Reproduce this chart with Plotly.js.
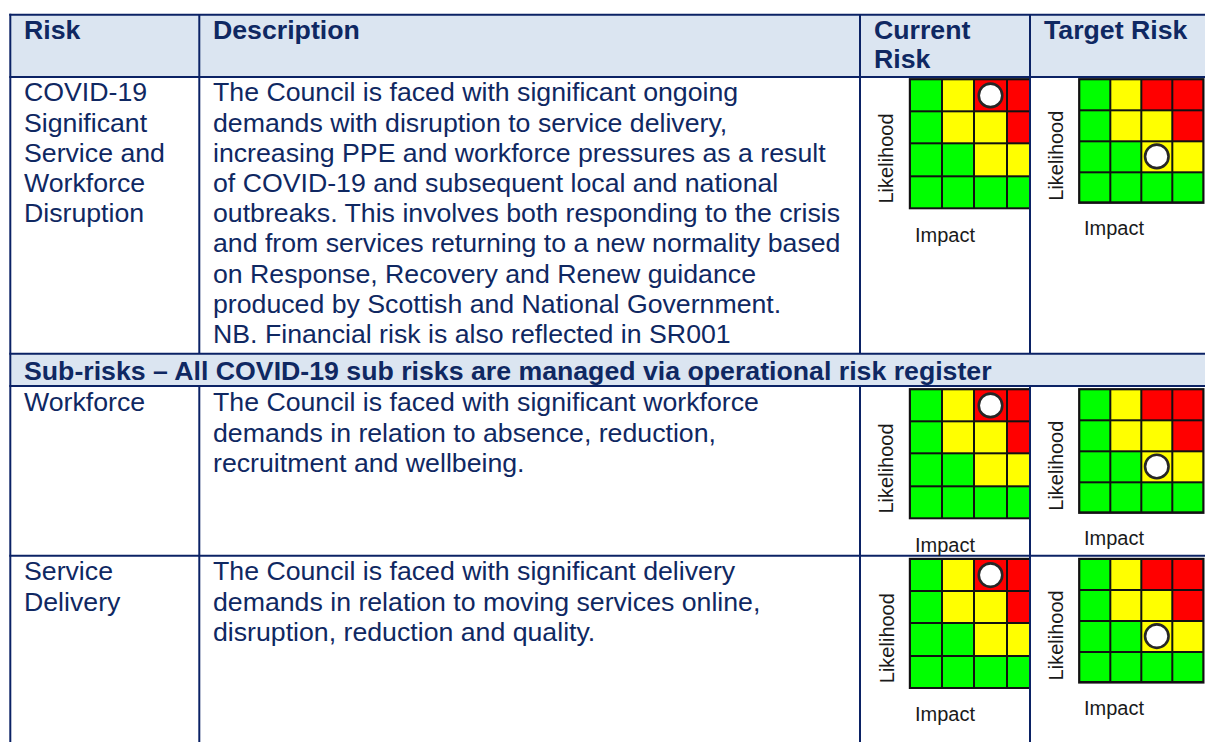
<!DOCTYPE html>
<html>
<head>
<meta charset="utf-8">
<script src="https://cdn.plot.ly/plotly-3.0.1.min.js"></script>
<style>html,body{margin:0;padding:0;background:#fff;}#chart{width:1205px;height:742px;}</style>
</head>
<body>
<div id="chart"></div>
<script>
// ---------------- DATA ----------------
const headerLabels = [["Risk"], ["Description"], ["Current", "Risk"], ["Target Risk"]];
const riskNames = [
  ["COVID-19", "Significant", "Service and", "Workforce", "Disruption"],
  ["Workforce"],
  ["Service", "Delivery"]
];
const descriptions = [
  ["The Council is faced with significant ongoing",
   "demands with disruption to service delivery,",
   "increasing PPE and workforce pressures as a result",
   "of COVID-19 and subsequent local and national",
   "outbreaks. This involves both responding to the crisis",
   "and from services returning to a new normality based",
   "on Response, Recovery and Renew guidance",
   "produced by Scottish and National Government.",
   "NB. Financial risk is also reflected in SR001"],
  ["The Council is faced with significant workforce",
   "demands in relation to absence, reduction,",
   "recruitment and wellbeing."],
  ["The Council is faced with significant delivery",
   "demands in relation to moving services online,",
   "disruption, reduction and quality."]
];
const subRiskBanner = "Sub-risks \u2013 All COVID-19 sub risks are managed via operational risk register";
const impactLevels = [1, 2, 3, 4];
const likelihoodLevels = [1, 2, 3, 4];
// risk level per likelihood row (bottom to top), per impact column: 1 green, 2 yellow, 3 red
const riskLevelGrid = [
  [1, 1, 1, 1],
  [1, 1, 2, 2],
  [1, 2, 2, 3],
  [1, 2, 3, 3]
];
const currentLikelihood = [4, 4, 4];
const currentImpact = [3, 3, 3];
const targetLikelihood = [2, 2, 2];
const targetImpact = [3, 3, 3];
const likelihoodLabel = "Likelihood";
const impactLabel = "Impact";

// ---------------- LAYOUT HELPERS ----------------
const W = 1205, H = 742;
const FONT = "'Liberation Sans', Arial, sans-serif";
const TXT = "#0f2862";
const LINE = "#0b2265";
const HEAD_BG = "#dbe5f1";
const FS = 26.7;
const PITCH = 30.2;

const annotations = [];
const shapes = [];
function txt(text, xpx, basePx, fs, bold, color) {
  annotations.push({
    text: text, xref: "paper", yref: "paper",
    x: xpx / W, y: 1 - (basePx + 0.212 * fs) / H,
    xanchor: "left", yanchor: "bottom", showarrow: false,
    borderpad: 0, borderwidth: 0,
    font: {family: FONT, size: fs, color: color || TXT, weight: bold ? "bold" : "normal"}
  });
}
function rect(x0, y0, x1, y1, fill) {
  shapes.push({type: "rect", xref: "paper", yref: "paper", layer: "below",
    x0: x0 / W, x1: x1 / W, y0: 1 - y1 / H, y1: 1 - y0 / H,
    fillcolor: fill, line: {width: 0}});
}
function hline(y, x0, x1) {
  shapes.push({type: "line", xref: "paper", yref: "paper", layer: "above",
    x0: x0 / W, x1: x1 / W, y0: 1 - y / H, y1: 1 - y / H, line: {color: LINE, width: 2}});
}
function vline(x, y0, y1) {
  shapes.push({type: "line", xref: "paper", yref: "paper", layer: "above",
    x0: x / W, x1: x / W, y0: 1 - y0 / H, y1: 1 - y1 / H, line: {color: LINE, width: 2}});
}

// table geometry (px)
const colX = [10.3, 199.3, 860, 1030];
const yTop = 14.8, yHead = 77, yBandTop = 353.7, yBandBot = 386, yRow3 = 555.7;

rect(colX[0], yTop, W, yHead, HEAD_BG);
rect(colX[0], yBandTop, W, yBandBot, HEAD_BG);
[yTop, yHead, yBandTop, yBandBot, yRow3].forEach(y => hline(y, colX[0] - 1, W));
vline(colX[0], yTop - 1, H);
colX.slice(1).forEach(x => { vline(x, yTop, yBandTop); vline(x, yBandBot, H); });

// header
const headX = [24, 213, 874, 1044];
headerLabels.forEach((lines, i) => lines.forEach((l, k) => txt(l, headX[i], 39.8 + k * 29, FS, true)));
// banner
txt(subRiskBanner, 24, 380, FS, true);

// rows
const rowBase = [101.7, 411.7, 580.7];
riskNames.forEach((lines, r) => lines.forEach((l, k) => txt(l, 24, rowBase[r] + k * PITCH, FS, false)));
descriptions.forEach((lines, r) => lines.forEach((l, k) => txt(l, 213, rowBase[r] + k * PITCH, FS, false)));

// ---------------- MATRICES ----------------
const gridTop = [79.3, 389.3, 559];
const traces = [];
const layoutAxes = {};
let axN = 0;
const B = 1.2; // outer border px
function matrix(gl, gt, cw, ch, clipRight, lik, imp) {
  axN++;
  const xs = axN === 1 ? "" : String(axN);
  const right = clipRight !== null ? clipRight : gl + 4 * cw + B;
  const bottom = gt + 4 * ch + B;
  layoutAxes["xaxis" + xs] = {domain: [(gl - B) / W, right / W],
    range: [0.5 - B / cw, 0.5 + (right - gl) / cw], visible: false, fixedrange: true, anchor: "y" + xs};
  layoutAxes["yaxis" + xs] = {domain: [1 - bottom / H, 1 - (gt - B) / H],
    range: [0.5 - B / ch, 4.5 + B / ch], visible: false, fixedrange: true, anchor: "x" + xs};
  traces.push({type: "heatmap", x: impactLevels, y: likelihoodLevels, z: riskLevelGrid,
    xaxis: "x" + xs, yaxis: "y" + xs, zmin: 1, zmax: 3, showscale: false, xgap: 2, ygap: 2,
    colorscale: [[0, "#00ff00"], [0.5, "#ffff00"], [1, "#ff0000"]], hoverinfo: "skip"});
  traces.push({type: "scatter", mode: "markers", x: [imp], y: [lik], xaxis: "x" + xs, yaxis: "y" + xs,
    marker: {size: 23.5, color: "#ffffff", line: {color: "#262626", width: 2.6}}, hoverinfo: "skip", showlegend: false, cliponaxis: false});
}
function rotLabel(cx, cy) {
  annotations.push({text: likelihoodLabel, xref: "paper", yref: "paper", x: cx / W, y: 1 - cy / H,
    xanchor: "center", yanchor: "middle", textangle: -90, showarrow: false, borderpad: 0, borderwidth: 0,
    font: {family: FONT, size: 20, color: "#1a1a1a"}});
}
gridTop.forEach((gt, r) => {
  matrix(910, gt, 32.2, 32.2, 1029, currentLikelihood[r], currentImpact[r]);
  matrix(1079.3, gt, 31, 30.85, null, targetLikelihood[r], targetImpact[r]);
  rotLabel(886.4, gt + 78.8);
  rotLabel(1056.4, gt + 76);
  txt(impactLabel, 915, gt + 162, 20, false, "#1a1a1a");
  txt(impactLabel, 1084, gt + 155.8, 20, false, "#1a1a1a");
});

const layout = Object.assign({
  width: W, height: H, margin: {l: 0, r: 0, t: 0, b: 0},
  paper_bgcolor: "#ffffff", plot_bgcolor: "#111111",
  showlegend: false, annotations: annotations, shapes: shapes
}, layoutAxes);

Plotly.newPlot("chart", traces, layout, {displayModeBar: false, staticPlot: true});
</script>
</body>
</html>
